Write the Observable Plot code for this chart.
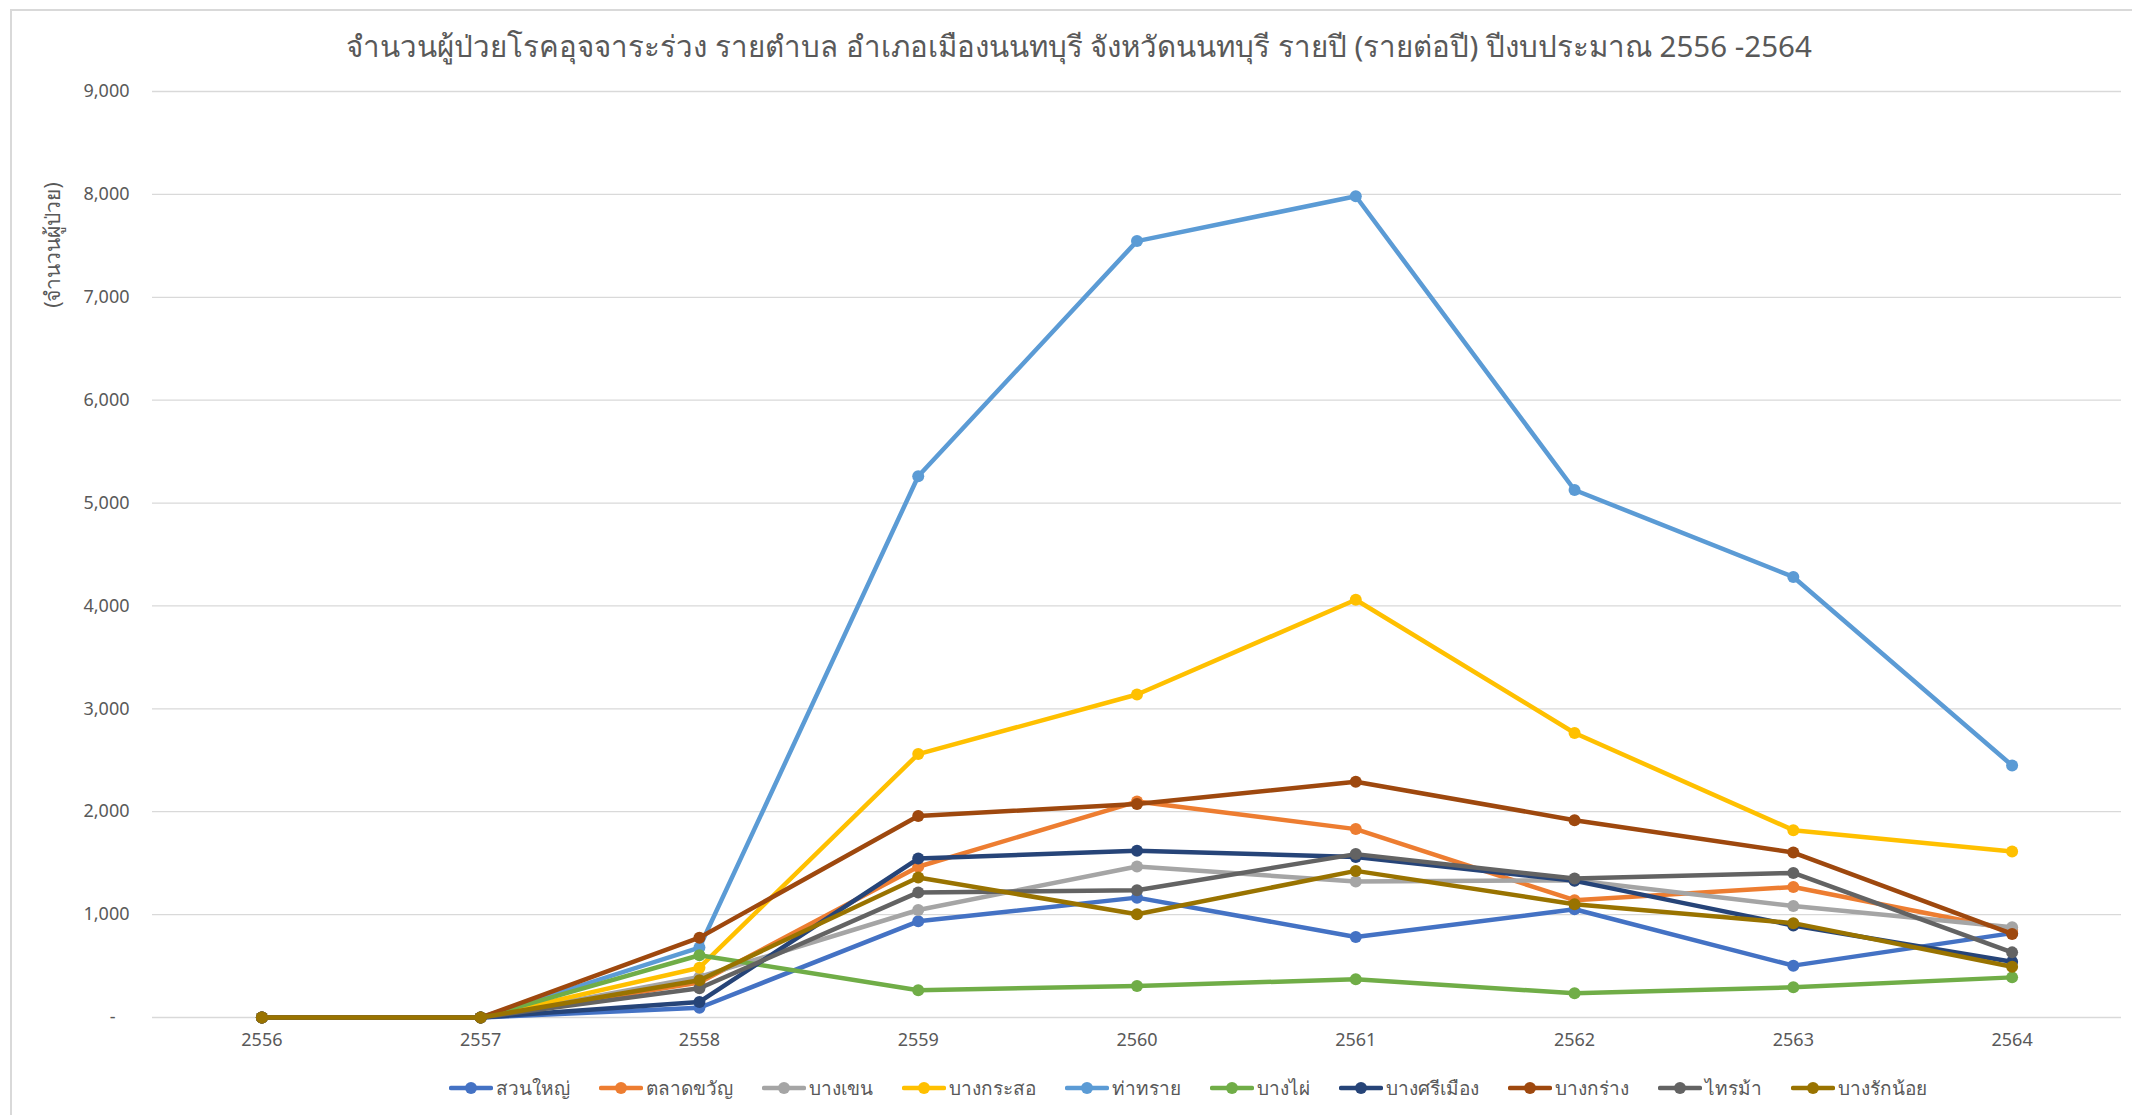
<!DOCTYPE html>
<html>
<head>
<meta charset="utf-8">
<script src="https://cdn.jsdelivr.net/npm/d3@7"></script>
<script src="https://cdn.jsdelivr.net/npm/@observablehq/plot@0.6"></script>
<style>
  html, body { margin: 0; padding: 0; background: #fff; }
  body { width: 2132px; height: 1115px; overflow: hidden; position: relative;
         font-family: "Segoe UI", Tahoma, "Noto Sans", "Open Sans", sans-serif; color: #595959; }
  #frame { position: absolute; left: 10px; top: 9px; width: 2200px; height: 1200px;
           border-left: 2px solid #d9d9d9; border-top: 2px solid #d9d9d9; box-sizing: border-box; }
  #title { position: absolute; left: 13px; top: 0; width: 2132px; height: 71px; line-height: 92px;
           text-align: center; font-size: 29.5px; color: #595959; }
  #chart { position: absolute; left: 0; top: 71px; }
  #ylabel { position: absolute; left: 52px; top: 245px; transform: translate(-50%, -50%) rotate(-90deg);
            font-size: 21px; white-space: nowrap; color: #595959; }
  #legend { position: absolute; left: 449px; top: 1067px; height: 42px;
            display: flex; justify-content: flex-start; align-items: center; gap: 29px; font-size: 19px; white-space: nowrap; }
  .item { display: flex; align-items: center; gap: 3px; }
</style>
</head>
<body>
<div id="frame"></div>
<div id="title"></div>
<div id="chart"></div>
<div id="ylabel"></div>
<div id="legend"></div>
<script>
const titleText = "จำนวนผู้ป่วยโรคอุจจาระร่วง รายตำบล อำเภอเมืองนนทบุรี จังหวัดนนทบุรี รายปี (รายต่อปี) ปีงบประมาณ 2556 -2564";
const yLabel = "(จำนวนผู้ป่วย)";
const years = ["2556", "2557", "2558", "2559", "2560", "2561", "2562", "2563", "2564"];
const yTicks = [0, 1000, 2000, 3000, 4000, 5000, 6000, 7000, 8000, 9000];

const seriesNames = ["สวนใหญ่", "ตลาดขวัญ", "บางเขน", "บางกระสอ", "ท่าทราย", "บางไผ่", "บางศรีเมือง", "บางกร่าง", "ไทรม้า", "บางรักน้อย"];
const seriesColors = ["#4472C4", "#ED7D31", "#A5A5A5", "#FFC000", "#5B9BD5", "#70AD47", "#264478", "#9E480E", "#636363", "#997300"];

const suanYai      = [0, 0, 95, 935, 1165, 783, 1052, 504, 820];
const taladKhwan   = [0, 0, 339, 1465, 2099, 1831, 1140, 1268, 850];
const bangKhen     = [0, 0, 394, 1045, 1467, 1321, 1335, 1083, 877];
const bangKraso    = [0, 0, 484, 2560, 3139, 4060, 2765, 1821, 1613];
const thaSai       = [0, 0, 680, 5260, 7546, 7982, 5127, 4282, 2449];
const bangPhai     = [0, 0, 605, 265, 306, 372, 235, 293, 390];
const bangSiMuang  = [0, 0, 151, 1545, 1620, 1561, 1328, 894, 542];
const bangKrang    = [0, 0, 776, 1958, 2074, 2291, 1918, 1603, 812];
const saiMa        = [0, 0, 284, 1216, 1237, 1588, 1350, 1405, 633];
const bangRakNoi   = [0, 0, 362, 1361, 1004, 1425, 1101, 917, 494];

const seriesValues = [suanYai, taladKhwan, bangKhen, bangKraso, thaSai, bangPhai, bangSiMuang, bangKrang, saiMa, bangRakNoi];

const data = seriesNames.flatMap((name, i) =>
  years.map((year, j) => ({series: name, year, value: seriesValues[i][j]})));

document.getElementById("title").textContent = titleText;
document.getElementById("ylabel").textContent = yLabel;

const fmt = d3.format(",");
const marks = [
  Plot.ruleY(yTicks, {stroke: "#d9d9d9", strokeWidth: 1.3}),
  Plot.axisY({ticks: yTicks, tickSize: 0, tickPadding: 23, fontSize: 18,
              tickFormat: d => d === 0 ? "-\u00a0\u00a0\u00a0" : fmt(d), label: null}),
  Plot.axisX({tickSize: 0, tickPadding: 16, fontSize: 18, label: null}),
  ...seriesNames.flatMap(name => {
    const rows = data.filter(d => d.series === name);
    return [
      Plot.line(rows, {x: "year", y: "value", stroke: "series", strokeWidth: 4.5, strokeLinejoin: "round", strokeLinecap: "round"}),
      Plot.dot(rows, {x: "year", y: "value", fill: "series", r: 6})
    ];
  })
];

const chart = Plot.plot({
  width: 2132,
  height: 996,
  marginTop: 20,
  marginBottom: 50,
  marginLeft: 152,
  marginRight: 11,
  style: {fontFamily: "\"Segoe UI\", Tahoma, \"Noto Sans\", \"Open Sans\", sans-serif", fontSize: "18px", color: "#595959", background: "transparent"},
  x: {type: "point", domain: years, padding: 0.5, round: false},
  y: {domain: [0, 9000]},
  color: {domain: seriesNames, range: seriesColors},
  marks
});
document.getElementById("chart").appendChild(chart);

const legend = document.getElementById("legend");
seriesNames.forEach((name, i) => {
  const item = document.createElement("div");
  item.className = "item";
  const c = seriesColors[i];
  item.innerHTML = `<svg width="44" height="16"><line x1="2" y1="8" x2="42" y2="8" stroke="${c}" stroke-width="4.5" stroke-linecap="round"/><circle cx="22" cy="8" r="6" fill="${c}"/></svg><span>${name}</span>`;
  legend.appendChild(item);
});
</script>
</body>
</html>
